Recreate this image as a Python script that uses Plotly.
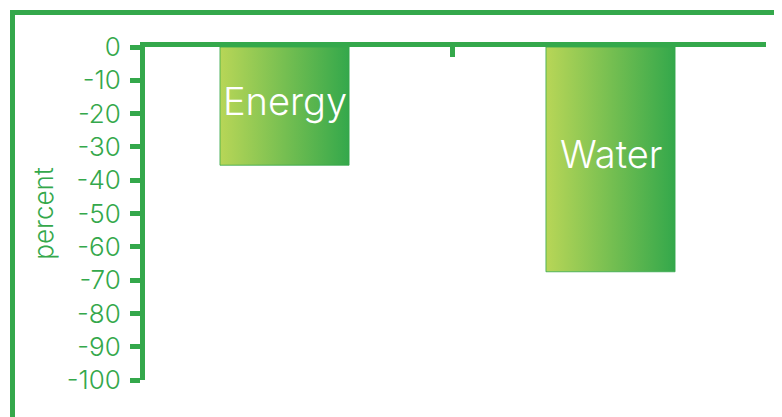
import plotly.graph_objects as go

# ---- data ----
categories = ["Energy", "Water"]
values = [-35.5, -67.5]
y_tick_values = [0, -10, -20, -30, -40, -50, -60, -70, -80, -90, -100]
y_tick_labels = ["0", "-10", "-20", "-30", "-40", "-50", "-60", "-70", "-80", "-90", "-100"]
y_title = "percent"

# ---- style ----
GREEN = "#34a84b"
LIGHT = "#b8d657"
FONT = "Inter"
WEIGHT = 300
OFF = 8  # page body margin
W, H = 782 - OFF, 417 - OFF
# plot area in page pixels
PL, PR, PT, PB = 145, 766, 47, 380.4
L, R, T, B = PL - OFF, W - (PR - OFF), PT - OFF, H - (PB - OFF)
BAR_WIDTH = 0.396
X_RANGE = [-0.428, 1.477]
X_TICKS = [0.514, 1.477]


def px_x(px):
    return (px - OFF - L) / (W - L - R)


def px_y(py):
    return (H - B - (py - OFF)) / (H - T - B)


fig = go.Figure()

for i, (cat, v) in enumerate(zip(categories, values)):
    x0, x1 = i - BAR_WIDTH / 2, i + BAR_WIDTH / 2
    fig.add_trace(go.Scatter(
        x=[x0, x0, x1, x1, x0],
        y=[0, v, v, 0, 0],
        mode="lines",
        fill="toself",
        line=dict(color="rgba(52,168,75,0.8)", width=1),
        fillgradient=dict(type="horizontal", colorscale=[[0, LIGHT], [1, GREEN]]),
        hoverinfo="skip",
        showlegend=False,
        name=cat,
    ))
    fig.add_annotation(
        x=i, y=v / 2, text=cat, showarrow=False, yshift=5,
        font=dict(color="white", size=38, family=FONT, weight=WEIGHT),
    )

# outer frame lines
fig.add_shape(type="line", xref="paper", yref="paper",
              x0=px_x(10), x1=px_x(800), y0=px_y(12.5), y1=px_y(12.5),
              line=dict(color=GREEN, width=5))
fig.add_shape(type="line", xref="paper", yref="paper",
              x0=px_x(12.5), x1=px_x(12.5), y0=px_y(10), y1=px_y(430),
              line=dict(color=GREEN, width=5))

fig.update_layout(
    width=W, height=H,
    margin=dict(l=L, r=R, t=T, b=B, pad=0),
    paper_bgcolor="white", plot_bgcolor="white",
    font=dict(family=FONT, color=GREEN, weight=WEIGHT),
    showlegend=False,
    xaxis=dict(
        range=X_RANGE, side="top", showgrid=False, zeroline=False,
        showline=True, linecolor=GREEN, linewidth=5,
        ticks="inside", tickvals=X_TICKS, ticklen=10, tickwidth=5, tickcolor=GREEN,
        showticklabels=False, fixedrange=True,
    ),
    yaxis=dict(
        range=[-100, 0], showgrid=False, zeroline=False,
        showline=True, linecolor=GREEN, linewidth=5,
        ticks="outside", tickvals=y_tick_values, ticktext=y_tick_labels,
        ticklen=10, tickwidth=5, tickcolor=GREEN,
        tickfont=dict(size=26, color=GREEN, family=FONT, weight=WEIGHT),
        ticklabelstandoff=4,
        title=dict(text=y_title, font=dict(size=26, color=GREEN, family=FONT, weight=WEIGHT), standoff=7),
        fixedrange=True,
    ),
)

fig.write_html("out.html")
